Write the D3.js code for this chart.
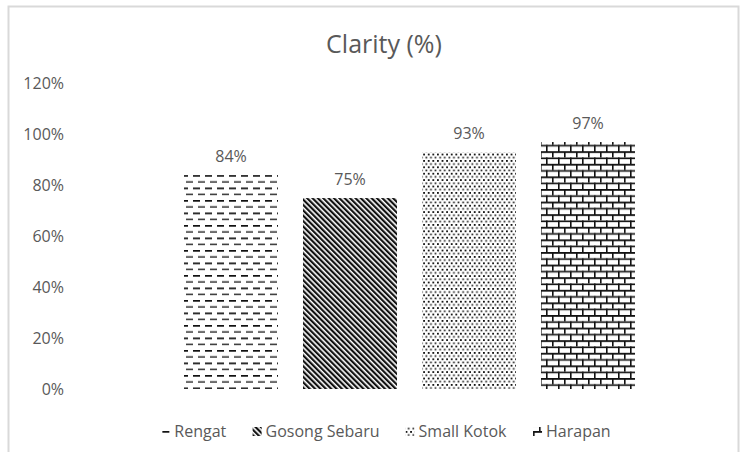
<!DOCTYPE html>
<html>
<head>
<meta charset="utf-8">
<script src="https://cdn.jsdelivr.net/npm/d3@7"></script>
<style>
  body { margin: 0; background: #fff; }
  text { font-family: "Open Sans", sans-serif; fill: #595959; }
</style>
</head>
<body>
<div id="chart"></div>
<script>
const sites = ["Rengat", "Gosong Sebaru", "Small Kotok", "Harapan"];
const clarity = [0.84, 0.75, 0.93, 0.97];
const yTicks = [0, 0.2, 0.4, 0.6, 0.8, 1.0, 1.2];
const fills = ["dash", "diag", "dots", "brick"];

const width = 748, height = 452;
const fontSize = "16px";

const svg = d3.select("#chart").append("svg")
    .attr("width", width)
    .attr("height", height);

const defs = svg.append("defs");

// dashed horizontal
const pDash = defs.append("pattern").attr("id", "dash")
    .attr("patternUnits", "userSpaceOnUse").attr("width", 12).attr("height", 12.5);
pDash.append("rect").attr("x", 1).attr("y", 0).attr("width", 7).attr("height", 1.7).attr("fill", "#111");
pDash.append("rect").attr("x", 6).attr("y", 6.25).attr("width", 7).attr("height", 1.4).attr("fill", "#222");
pDash.append("rect").attr("x", -6).attr("y", 6.25).attr("width", 7).attr("height", 1.4).attr("fill", "#222");

// wide downward diagonal
const pDiag = defs.append("pattern").attr("id", "diag")
    .attr("patternUnits", "userSpaceOnUse").attr("width", 3.8).attr("height", 10)
    .attr("patternTransform", "rotate(-45)");
pDiag.append("rect").attr("width", 2.2).attr("height", 10).attr("fill", "#111");

// dotted
const pDots = defs.append("pattern").attr("id", "dots")
    .attr("patternUnits", "userSpaceOnUse").attr("width", 4.6).attr("height", 6.4);
pDots.append("rect").attr("x", 0).attr("y", 0).attr("width", 1.8).attr("height", 1.8).attr("fill", "#111");
pDots.append("rect").attr("x", 2.3).attr("y", 3.2).attr("width", 1.7).attr("height", 1.7).attr("fill", "#222");

// horizontal brick
const pBrick = defs.append("pattern").attr("id", "brick")
    .attr("patternUnits", "userSpaceOnUse").attr("width", 12).attr("height", 12.6);
pBrick.append("rect").attr("width", 12).attr("height", 12.6).attr("fill", "#fff");
pBrick.append("rect").attr("x", 0).attr("y", 0).attr("width", 12).attr("height", 1.8).attr("fill", "#111");
pBrick.append("rect").attr("x", 0).attr("y", 6.3).attr("width", 12).attr("height", 1.6).attr("fill", "#111");
pBrick.append("rect").attr("x", 0).attr("y", 0).attr("width", 1.6).attr("height", 6.3).attr("fill", "#111");
pBrick.append("rect").attr("x", 6).attr("y", 6.3).attr("width", 1.6).attr("height", 6.3).attr("fill", "#111");

// chart border
svg.append("rect")
    .attr("x", 8.5).attr("y", 6.5)
    .attr("width", 730).attr("height", 500)
    .attr("fill", "none")
    .attr("stroke", "#d9d9d9")
    .attr("stroke-width", 2);

const x = d3.scaleBand()
    .domain(sites)
    .range([171.5, 647.5])
    .paddingInner(0.21)
    .paddingOuter(0.105);

const y = d3.scaleLinear()
    .domain([0, 1.2])
    .range([389, 83.5]);

svg.append("text")
    .attr("x", 384).attr("y", 53)
    .attr("text-anchor", "middle")
    .style("font-size", "25px")
    .text("Clarity (%)");

const yAxis = d3.axisLeft(y)
    .tickValues(yTicks)
    .tickFormat(d3.format(".0%"))
    .tickSize(0)
    .tickPadding(0);

svg.append("g")
    .attr("transform", "translate(64,0)")
    .call(yAxis)
    .call(g => g.select(".domain").remove())
    .call(g => g.selectAll("text")
        .style("font-family", "'Open Sans', sans-serif")
        .style("font-size", fontSize)
        .attr("fill", "#595959"));

const data = sites.map((s, i) => ({ site: s, value: clarity[i], fill: fills[i] }));

svg.append("g").selectAll("rect")
    .data(data)
    .enter().append("rect")
    .attr("x", d => x(d.site))
    .attr("y", d => y(d.value))
    .attr("width", x.bandwidth())
    .attr("height", d => y(0) - y(d.value))
    .attr("fill", d => `url(#${d.fill})`);

svg.append("g").selectAll("text")
    .data(data)
    .enter().append("text")
    .attr("x", d => x(d.site) + x.bandwidth() / 2)
    .attr("y", d => y(d.value) - 13)
    .attr("text-anchor", "middle")
    .style("font-size", fontSize)
    .text(d => d3.format(".0%")(d.value));

// legend
const legend = svg.append("g").attr("transform", "translate(0,431)");
const items = legend.selectAll("g")
    .data(data)
    .enter().append("g");

items.append("rect")
    .attr("x", 0).attr("y", -4)
    .attr("width", 9).attr("height", 9)
    .attr("fill", d => `url(#${d.fill})`);

items.append("text")
    .attr("x", 13).attr("dy", "0.35em")
    .style("font-size", fontSize)
    .text(d => d.site);

let widths = [];
items.each(function() { widths.push(this.getBBox().width); });
const gap = 26;
const total = d3.sum(widths) + gap * (widths.length - 1);
let cx = 386 - total / 2;
items.attr("transform", (d, i) => {
    const t = `translate(${cx},0)`;
    cx += widths[i] + gap;
    return t;
});
</script>
</body>
</html>
